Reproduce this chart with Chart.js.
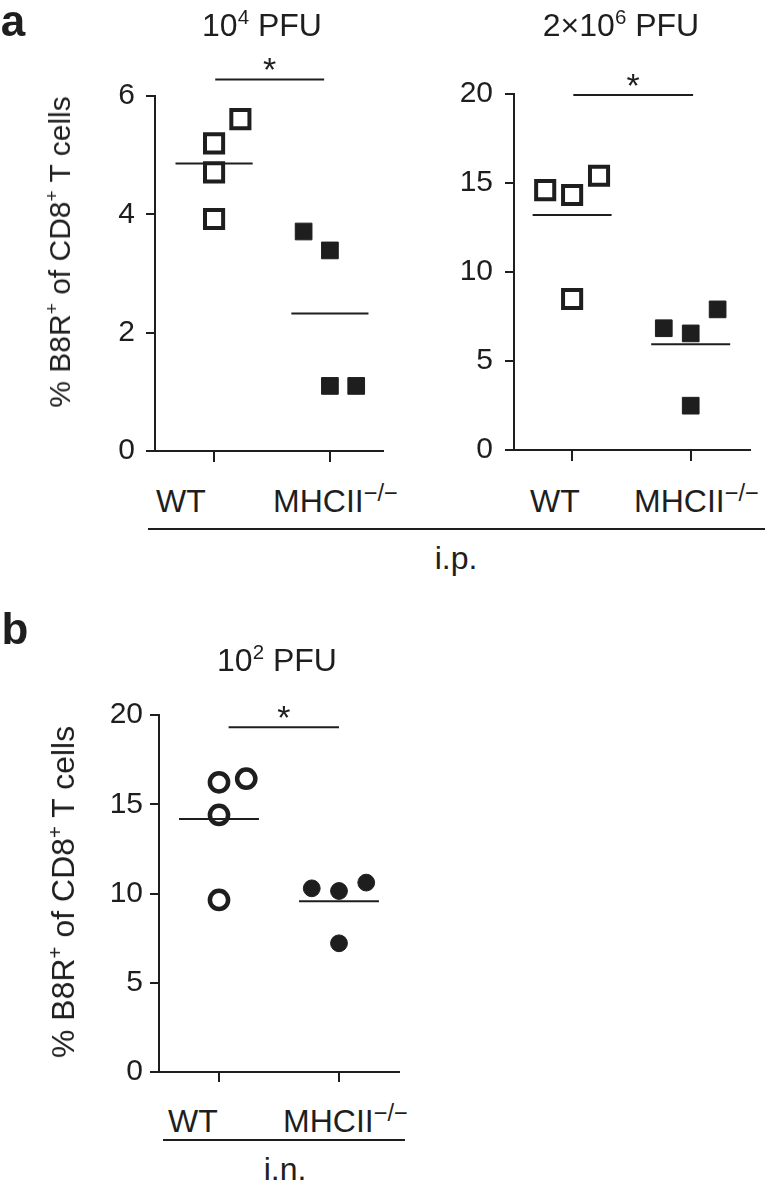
<!DOCTYPE html>
<html>
<head>
<meta charset="utf-8">
<script src="https://cdn.jsdelivr.net/npm/chart.js@4.4.1/dist/chart.umd.min.js"></script>
<style>
  body { margin: 0; background: #fff; }
  #fig { position: relative; width: 769px; height: 1189px; overflow: hidden;
         font-family: 'Liberation Sans', Arial, sans-serif; color: #1e1e1e; }
  canvas { position: absolute; }
  .t { position: absolute; white-space: nowrap; line-height: 1; transform: translate(-50%, -50%); }
  .l { position: absolute; white-space: nowrap; line-height: 1; transform: translate(0, -50%); }
  .yl { position: absolute; white-space: nowrap; line-height: 1; transform: translate(-50%, -50%) rotate(-90deg); }
  sup { font-size: 0.64em; vertical-align: 0.6em; line-height: 0; }
  .l sup { font-size: 0.74em; vertical-align: 0.45em; }
  .rule { position: absolute; height: 2px; background: #1e1e1e; }
</style>
</head>
<body>
<div id="fig"></div>
<script>
const groups = ['WT', 'MHCII<sup>−/−</sup>'];
const yLabel = '% B8R<sup>+</sup> of CD8<sup>+</sup> T cells';

// a, 10^4 PFU i.p.
const a1Title = '10<sup>4</sup> PFU';
const a1Ticks = [0, 2, 4, 6];
const a1Wt = [5.61, 5.20, 4.71, 3.92];
const a1WtSlot = [1, 0, 0, 0];
const a1Ko = [3.71, 3.39, 1.10, 1.10];
const a1KoSlot = [-1, 0, 0, 1];
const a1Sig = [1.01, 1.95, 6.28];

// a, 2x10^6 PFU i.p.
const a2Title = '2×10<sup>6</sup> PFU';
const a2Ticks = [0, 5, 10, 15, 20];
const a2Wt = [14.60, 14.33, 15.41, 8.48];
const a2WtSlot = [-1, 0, 1, 0];
const a2Ko = [6.84, 6.55, 7.90, 2.49];
const a2KoSlot = [-1, 0, 1, 0];
const a2Sig = [1.01, 2.02, 19.95];

// b, 10^2 PFU i.n.
const bTitle = '10<sup>2</sup> PFU';
const bTicks = [0, 5, 10, 15, 20];
const bWt = [16.23, 16.43, 14.40, 9.64];
const bWtSlot = [0, 1, 0, 0];
const bKo = [10.29, 10.14, 10.61, 7.21];
const bKoSlot = [-1, 0, 1, 0];
const bSig = [1.08, 2.00, 19.31];

const ink = '#1e1e1e';
const SLOT = 0.227;
const HALF = 0.333;
Chart.defaults.font.family = "'Liberation Sans', Arial, sans-serif";
Chart.defaults.color = ink;

const fig = document.getElementById('fig');

function text(cls, html, x, y, size, extra) {
    const d = document.createElement('div');
    d.className = cls;
    d.innerHTML = html;
    d.style.left = x + 'px';
    d.style.top = y + 'px';
    d.style.fontSize = size + 'px';
    if (extra) Object.assign(d.style, extra);
    fig.appendChild(d);
}

function rule(x1, x2, y) {
    const d = document.createElement('div');
    d.className = 'rule';
    d.style.left = x1 + 'px';
    d.style.width = (x2 - x1) + 'px';
    d.style.top = y + 'px';
    fig.appendChild(d);
}

const mean = arr => arr.reduce((s, v) => s + v, 0) / arr.length;

const starPlugin = {
    id: 'star',
    afterDatasetsDraw(chart, args, opts) {
        const { ctx, scales: { x, y } } = chart;
        const px = (x.getPixelForValue(opts.from) + x.getPixelForValue(opts.to)) / 2;
        const py = y.getPixelForValue(opts.level);
        ctx.save();
        ctx.fillStyle = ink;
        ctx.font = "34px 'Liberation Sans', Arial";
        ctx.textAlign = 'center';
        ctx.textBaseline = 'alphabetic';
        ctx.fillText('*', px, py + opts.dy);
        ctx.restore();
    }
};

function makePanel(p) {
    const cv = document.createElement('canvas');
    cv.width = p.w;
    cv.height = p.h;
    cv.style.left = p.left + 'px';
    cv.style.top = p.top + 'px';
    fig.appendChild(cv);

    const square = p.shape === 'rect';
    const pts = (vals, slots, c) => vals.map((v, k) => ({ x: c + slots[k] * SLOT, y: v }));
    const bar = (c, m) => [{ x: c - HALF, y: m }, { x: c + HALF, y: m }];
    const lineDs = data => ({
        type: 'line', data, borderColor: ink, borderWidth: 2,
        pointRadius: 0, fill: false, order: 2
    });

    const sigDs = lineDs([{ x: p.sig[0], y: p.sig[2] }, { x: p.sig[1], y: p.sig[2] }]);
    sigDs.clip = false;

    new Chart(cv, {
        type: 'scatter',
        data: {
            datasets: [
                {
                    data: pts(p.wt, p.wtSlot, 1),
                    pointStyle: p.shape,
                    pointRadius: square ? 12.8 : 9.1,
                    borderWidth: square ? 4 : 4.5,
                    borderColor: ink,
                    backgroundColor: square ? '#fff' : 'rgba(0,0,0,0)',
                    order: 1
                },
                {
                    data: pts(p.ko, p.koSlot, 2),
                    pointStyle: p.shape,
                    pointRadius: square ? 11.8 : 8.4,
                    borderWidth: 1,
                    borderColor: ink,
                    backgroundColor: ink,
                    order: 1
                },
                lineDs(bar(1, mean(p.wt))),
                lineDs(bar(2, mean(p.ko))),
                sigDs
            ]
        },
        options: {
            responsive: false,
            animation: false,
            events: [],
            layout: { padding: { top: p.padTop, right: p.padRight, left: 0, bottom: 0 } },
            plugins: {
                legend: { display: false },
                tooltip: { enabled: false },
                star: { from: p.sig[0], to: p.sig[1], level: p.sig[2], dy: 2 }
            },
            scales: {
                x: {
                    type: 'linear',
                    min: p.xMin,
                    max: p.xMax,
                    afterBuildTicks: s => { s.ticks = groups.map((g, i) => ({ value: i + 1 })); },
                    afterFit: s => { s.height = p.xHeight; },
                    ticks: { display: false },
                    grid: { drawOnChartArea: false, drawTicks: true, tickLength: p.xTickLen, color: ink, lineWidth: 2 },
                    border: { display: true, color: ink, width: 2 }
                },
                y: {
                    min: p.ticks[0],
                    max: p.ticks[p.ticks.length - 1],
                    afterBuildTicks: s => { s.ticks = p.ticks.map(v => ({ value: v })); },
                    afterFit: s => { s.width = p.yWidth; },
                    ticks: { font: { size: 30 }, color: ink, padding: p.tickPad },
                    grid: { drawOnChartArea: false, drawTicks: true, tickLength: 9, color: ink, lineWidth: 2 },
                    border: { display: true, color: ink, width: 2 }
                }
            }
        },
        plugins: [starPlugin]
    });
}

makePanel({
    left: 0, top: 0, w: 400, h: 480, padTop: 96, padRight: 10,
    yWidth: 155, xHeight: 29, xMin: 0.49, xMax: 2.46, xTickLen: 11, tickPad: 11,
    ticks: a1Ticks, wt: a1Wt, wtSlot: a1WtSlot, ko: a1Ko, koSlot: a1KoSlot, sig: a1Sig, shape: 'rect'
});
makePanel({
    left: 400, top: 0, w: 369, h: 480, padTop: 94, padRight: 19,
    yWidth: 114, xHeight: 30, xMin: 0.51, xMax: 2.5, xTickLen: 11, tickPad: 12,
    ticks: a2Ticks, wt: a2Wt, wtSlot: a2WtSlot, ko: a2Ko, koSlot: a2KoSlot, sig: a2Sig, shape: 'rect'
});
makePanel({
    left: 0, top: 600, w: 420, h: 500, padTop: 115, padRight: 21,
    yWidth: 159, xHeight: 28, xMin: 0.5, xMax: 2.5, xTickLen: 10, tickPad: 7,
    ticks: bTicks, wt: bWt, wtSlot: bWtSlot, ko: bKo, koSlot: bKoSlot, sig: bSig, shape: 'circle'
});

// panel letters and titles
text('t', 'a', 13, 21, 44, { fontWeight: 'bold' });
text('t', 'b', 15, 629, 44, { fontWeight: 'bold' });
text('t', a1Title, 262, 25, 32);
text('t', a2Title, 621, 25, 32);
text('t', bTitle, 277, 660, 32);

// y axis titles
text('yl', yLabel, 60, 252, 30);
text('yl', yLabel, 63, 892, 32);

// group labels and route
text('l', groups[0], 156, 501, 32);
text('l', groups[1], 273, 501, 32);
text('l', groups[0], 530, 501, 32);
text('l', groups[1], 634, 501, 32);
rule(148, 765, 528);
text('t', 'i.p.', 456, 558, 32);

text('l', groups[0], 168, 1121, 32);
text('l', groups[1], 283, 1121, 32);
rule(163, 405, 1139);
text('t', 'i.n.', 285, 1169, 32);
</script>
</body>
</html>
